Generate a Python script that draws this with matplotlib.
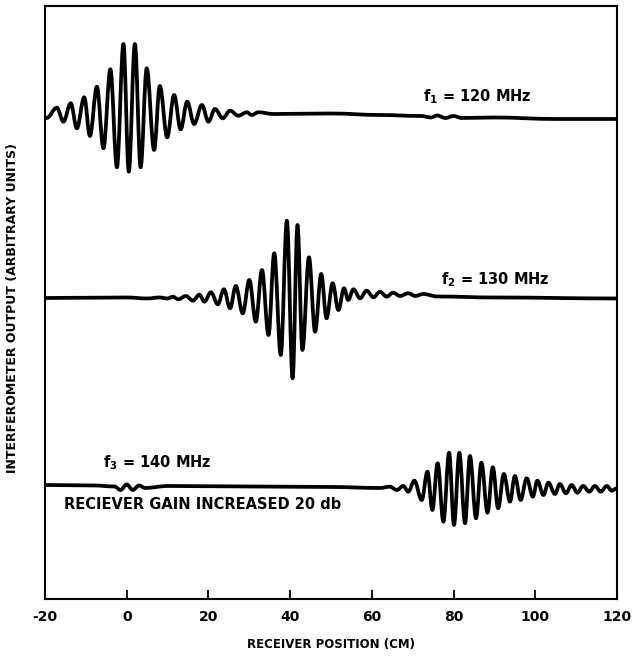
import numpy as np
import matplotlib
matplotlib.use("Agg")
import matplotlib.pyplot as plt
from matplotlib.path import Path
from matplotlib.patches import PathPatch

# extrema of each trace: position (cm), output (arb. units, relative to trace baseline)
f1_pos = [-19.6, -17.1, -15.5, -13.7, -12.2, -10.4, -9.0, -7.3, -5.7, -4.0, -2.4, -0.8, 0.5, 2.0,
          3.4, 4.9, 6.7, 8.1, 9.9, 11.6, 13.2, 14.8, 16.5, 18.4, 20.0, 21.6, 23.5, 25.3, 27.3,
          29.4, 30.6, 32.2, 36.0, 50.0, 62.0, 72.0, 74.5, 76.0, 78.0, 80.0, 82.0, 90.0, 105.0, 120.0]
f1_val = [0.0, 1.03, -0.37, 1.47, -1.03, 2.07, -1.8, 3.13, -3.03, 4.87, -4.93, 7.4, -5.37, 7.4,
          -4.93, 4.97, -3.2, 3.2, -1.93, 2.3, -1.13, 1.63, -0.6, 1.3, -0.37, 0.9, -0.03, 0.73, 0.23,
          0.57, 0.3, 0.57, 0.4, 0.45, 0.3, 0.2, 0.05, 0.25, 0.0, 0.2, 0.0, 0.05, -0.1, -0.1]

f2_pos = [-19.6, 0.0, 5.0, 8.0, 10.0, 11.3, 12.6, 14.5, 16.2, 17.8, 19.0, 20.6, 22.3, 23.8, 25.3,
          26.7, 28.4, 30.0, 31.6, 33.1, 34.7, 36.1, 37.7, 39.2, 40.6, 41.8, 43.0, 44.6, 46.1, 47.6,
          48.9, 50.4, 51.8, 53.2, 54.2, 55.5, 57.1, 58.7, 60.4, 62.0, 63.6, 65.2, 66.9, 68.9, 70.6,
          72.6, 76.0, 90.0, 120.0]
f2_val = [0.0, 0.05, -0.05, 0.05, -0.05, 0.13, -0.13, 0.2, -0.27, 0.33, -0.37, 0.57, -0.63, 0.87,
          -1.03, 1.2, -1.53, 1.8, -2.37, 2.8, -3.7, 4.47, -5.7, 7.73, -8.03, 7.3, -5.2, 4.07, -3.37,
          2.4, -2.03, 1.47, -1.2, 0.97, -0.2, 0.87, -0.03, 0.73, 0.07, 0.63, 0.13, 0.53, 0.2, 0.47,
          0.2, 0.4, 0.15, 0.05, -0.05]

f3_pos = [-19.6, -8.0, -3.0, -1.5, 0.0, 1.5, 3.0, 4.5, 10.0, 30.0, 50.0, 62.0, 64.4, 66.1, 67.7,
          68.9, 70.4, 72.2, 73.6, 74.8, 76.1, 77.5, 78.9, 80.1, 81.4, 82.8, 84.0, 85.5, 86.8, 88.3,
          89.6, 90.9, 92.3, 93.8, 95.0, 96.4, 97.9, 99.4, 100.5, 102.0, 103.2, 104.8, 106.0, 107.5,
          108.9, 110.3, 111.7, 113.2, 114.6, 116.0, 117.5, 118.7, 120.0]
f3_val = [0.2, 0.15, 0.05, -0.3, 0.25, -0.3, 0.15, -0.1, 0.1, 0.05, 0.0, -0.1, 0.03, -0.3, 0.1,
          -0.47, 0.63, -1.3, 1.53, -2.3, 2.37, -3.47, 3.43, -3.8, 3.43, -3.63, 3.1, -3.13, 2.43,
          -2.57, 1.97, -2.13, 1.3, -1.47, 1.1, -1.3, 0.87, -0.97, 0.63, -0.8, 0.43, -0.7, 0.3,
          -0.63, 0.2, -0.57, 0.1, -0.47, 0.1, -0.47, 0.1, -0.37, -0.13]

xtick_pos = [-20, 0, 20, 40, 60, 80, 100, 120]
xtick_lab = ["-20", "0", "20", "40", "60", "80", "100", "120"]


def trace_path(xs, ys, base):
    # smooth curve through the extrema, flat tangent at each one
    verts = [(xs[0], ys[0] + base)]
    codes = [Path.MOVETO]
    k = 0.36
    for i in range(len(xs) - 1):
        x0, y0 = xs[i], ys[i] + base
        x1, y1 = xs[i + 1], ys[i + 1] + base
        dx = x1 - x0
        verts += [(x0 + k * dx, y0), (x1 - k * dx, y1), (x1, y1)]
        codes += [Path.CURVE4] * 3
    return Path(verts, codes)


plt.rcParams['font.family'] = 'DejaVu Sans'
plt.rcParams['font.weight'] = 'bold'
plt.rcParams['mathtext.fontset'] = 'dejavusans'

fig = plt.figure(figsize=(6.41, 6.58), dpi=100)
ax = fig.add_axes([0.0702, 0.0897, 0.8924, 0.9012])

for xs, ys, base in [(f1_pos, f1_val, 48.1), (f2_pos, f2_val, 30.1), (f3_pos, f3_val, 11.2)]:
    ax.add_patch(PathPatch(trace_path(xs, ys, base), fill=False, color='black',
                           lw=2.7, capstyle='round', joinstyle='round'))

ax.set_xlim(-20, 120)
ax.set_ylim(0, 59.3)
ax.set_xticks(xtick_pos)
ax.set_xticklabels(xtick_lab, fontsize=10, fontweight='bold')
ax.set_yticks([])
ax.tick_params(axis='x', direction='in', length=6.5, width=1.3, pad=8)
for s in ax.spines.values():
    s.set_linewidth(1.5)

ax.set_xlabel("RECEIVER POSITION (CM)", fontsize=8.5, fontweight='bold', labelpad=10)
ax.set_ylabel("INTERFEROMETER OUTPUT (ARBITRARY UNITS)", fontsize=9, fontweight='bold')
ax.yaxis.set_label_coords(-0.045, 0.49)

ax.text(72.5, 50.2, r"f$_\mathbf{1}$ = 120 MHz", fontsize=10.5, fontweight='bold', va='center')
ax.text(76.9, 31.9, r"f$_\mathbf{2}$ = 130 MHz", fontsize=10.5, fontweight='bold', va='center')
ax.text(-5.8, 13.6, r"f$_\mathbf{3}$ = 140 MHz", fontsize=10.5, fontweight='bold', va='center')
ax.text(-15.3, 9.4, "RECIEVER GAIN INCREASED 20 db", fontsize=10.5, fontweight='bold', va='center')

plt.savefig('out.png', dpi=100)
